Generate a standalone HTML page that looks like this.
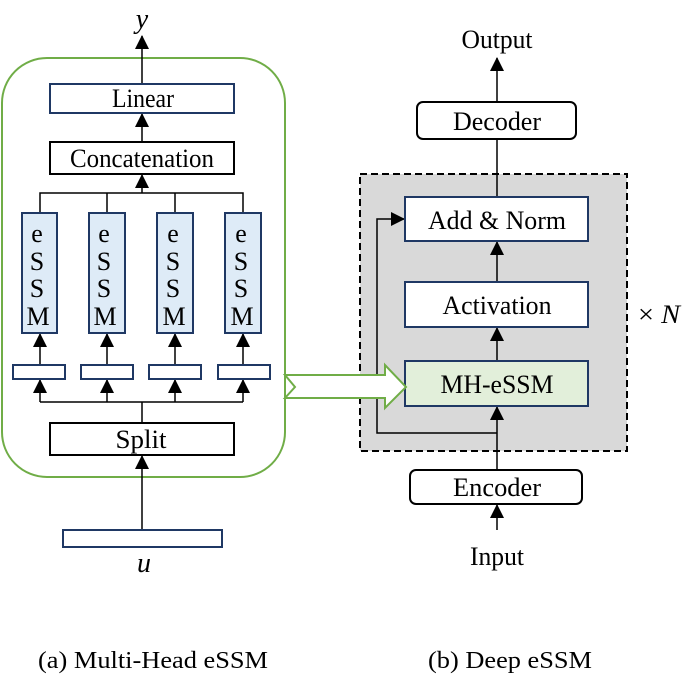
<!DOCTYPE html>
<html><head><style>body{margin:0;background:#fff}svg{display:block}text{font-family:"Liberation Serif",serif;fill:#000}</style></head><body>
<svg width="692" height="675" viewBox="0 0 692 675" xmlns="http://www.w3.org/2000/svg">
<defs><marker id="b" markerWidth="14" markerHeight="14" refX="13" refY="7" orient="auto" markerUnits="userSpaceOnUse"><path d="M0,0 L14,7 L0,14 z" fill="#000"/></marker></defs>
<g stroke="#000" stroke-width="1.5" fill="none">
<rect x="2" y="58" width="283" height="419" rx="45" stroke="#70ad47" stroke-width="2"/>
<line x1="142" y1="84" x2="142" y2="36" marker-end="url(#b)"/>
<line x1="142" y1="142" x2="142" y2="114" marker-end="url(#b)"/>
<line x1="142" y1="193" x2="142" y2="175" marker-end="url(#b)"/>
<polyline points="40,213 40,193 243,193 243,213"/>
<line x1="107" y1="193" x2="107" y2="213"/><line x1="175" y1="193" x2="175" y2="213"/>
<line x1="142" y1="423" x2="142" y2="402"/>
<polyline points="40,402 243,402"/>
<line x1="40" y1="402" x2="40" y2="380" marker-end="url(#b)"/><line x1="107" y1="402" x2="107" y2="380" marker-end="url(#b)"/><line x1="175" y1="402" x2="175" y2="380" marker-end="url(#b)"/><line x1="243" y1="402" x2="243" y2="380" marker-end="url(#b)"/>
<line x1="40" y1="365" x2="40" y2="334" marker-end="url(#b)"/><line x1="107" y1="365" x2="107" y2="334" marker-end="url(#b)"/><line x1="175" y1="365" x2="175" y2="334" marker-end="url(#b)"/><line x1="243" y1="365" x2="243" y2="334" marker-end="url(#b)"/>
<line x1="142" y1="530" x2="142" y2="456" marker-end="url(#b)"/>
</g>
<g stroke="#1f3864" stroke-width="2" fill="#fff">
<rect x="50" y="84" width="184" height="29"/>
<rect x="22" y="213" width="35" height="120" fill="#deebf7"/><rect x="89" y="213" width="36" height="120" fill="#deebf7"/><rect x="157" y="213" width="36" height="120" fill="#deebf7"/><rect x="225" y="213" width="36" height="120" fill="#deebf7"/>
<rect x="13" y="365" width="52" height="14"/><rect x="81" y="365" width="52" height="14"/><rect x="149" y="365" width="52" height="14"/><rect x="218" y="365" width="52" height="14"/>
<rect x="63" y="530" width="159" height="17"/>
</g>
<g stroke="#000" stroke-width="2" fill="#fff">
<rect x="50" y="142" width="184" height="32"/>
<rect x="50" y="423" width="184" height="32"/>
</g>
<g font-size="26" text-anchor="middle">
<text x="143" y="107" textLength="62" lengthAdjust="spacingAndGlyphs">Linear</text>
<text x="142" y="167" textLength="144" lengthAdjust="spacingAndGlyphs">Concatenation</text>
<text x="141" y="448" textLength="51" lengthAdjust="spacingAndGlyphs">Split</text>
<text x="142" y="28" font-style="italic" font-size="28">y</text><text x="144" y="572" font-style="italic" font-size="28">u</text>
</g>
<g font-size="26" text-anchor="middle">
<g><text x="37" y="242">e</text><text x="37" y="270">S</text><text x="37" y="297">S</text><text x="38" y="325">M</text></g>
<g transform="translate(67,0)"><text x="37" y="242">e</text><text x="37" y="270">S</text><text x="37" y="297">S</text><text x="38" y="325">M</text></g>
<g transform="translate(136,0)"><text x="37" y="242">e</text><text x="37" y="270">S</text><text x="37" y="297">S</text><text x="38" y="325">M</text></g>
<g transform="translate(204,0)"><text x="37" y="242">e</text><text x="37" y="270">S</text><text x="37" y="297">S</text><text x="38" y="325">M</text></g>
</g>
<rect x="360" y="174" width="267" height="277" fill="#d9d9d9" stroke="#000" stroke-width="2" stroke-dasharray="7,4"/>
<g stroke="#000" stroke-width="1.5" fill="none">
<line x1="497" y1="102" x2="497" y2="58" marker-end="url(#b)"/>
<line x1="497" y1="197" x2="497" y2="140" />
<line x1="497" y1="282" x2="497" y2="242" marker-end="url(#b)"/>
<line x1="497" y1="361" x2="497" y2="328" marker-end="url(#b)"/>
<line x1="497" y1="470" x2="497" y2="407" marker-end="url(#b)"/>
<line x1="497" y1="530" x2="497" y2="505" marker-end="url(#b)"/>
<polyline points="497,433 377,433 377,219 404,219" marker-end="url(#b)"/>
</g>
<g stroke="#1f3864" stroke-width="2" fill="#fff">
<rect x="405" y="197" width="183" height="44"/>
<rect x="405" y="282" width="183" height="45"/>
<rect x="405" y="361" width="183" height="45" fill="#e2efda"/>
</g>
<g stroke="#000" stroke-width="2" fill="#fff">
<rect x="417" y="102" width="159" height="37" rx="6"/>
<rect x="410" y="470" width="172" height="34" rx="6"/>
</g>
<polygon points="285,375 385,375 385,365 406,387 385,408 385,398 285,398 295,387" fill="#fff" stroke="#70ad47" stroke-width="2"/>
<g font-size="26" text-anchor="middle">
<text x="497" y="48" textLength="71" lengthAdjust="spacingAndGlyphs">Output</text>
<text x="497" y="130" textLength="88" lengthAdjust="spacingAndGlyphs">Decoder</text>
<text x="497" y="229" textLength="138" lengthAdjust="spacingAndGlyphs">Add &amp; Norm</text>
<text x="497" y="314" textLength="109" lengthAdjust="spacingAndGlyphs">Activation</text>
<text x="497" y="393" textLength="113" lengthAdjust="spacingAndGlyphs">MH-eSSM</text>
<text x="497" y="496" textLength="88" lengthAdjust="spacingAndGlyphs">Encoder</text>
<text x="497" y="565" textLength="54" lengthAdjust="spacingAndGlyphs">Input</text>
<text x="659" y="323" textLength="42" lengthAdjust="spacingAndGlyphs">× <tspan font-style="italic">N</tspan></text>
<text x="153" y="668" font-size="24" textLength="230" lengthAdjust="spacingAndGlyphs">(a) Multi-Head eSSM</text>
<text x="510" y="668" font-size="24" textLength="164" lengthAdjust="spacingAndGlyphs">(b) Deep eSSM</text>
</g>
</svg>
</body></html>
